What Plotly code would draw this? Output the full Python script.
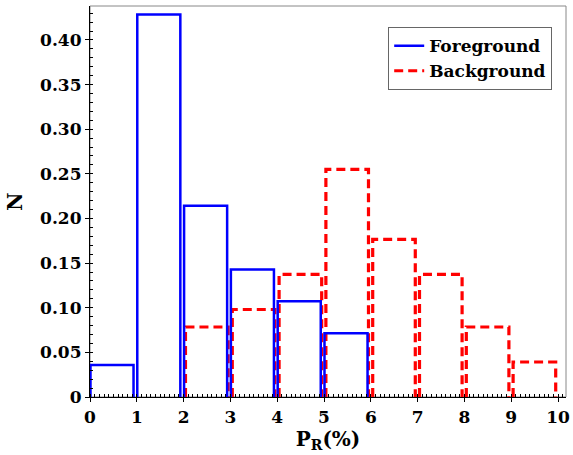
import plotly.graph_objects as go

# Histogram bins (left edges, in %) and normalised counts
bins = list(range(10))
foreground = [1/28, 12/28, 6/28, 4/28, 3/28, 2/28, 0, 0, 0, 0]
background = [0, 0, 4/51, 5/51, 7/51, 13/51, 9/51, 7/51, 4/51, 2/51]

x_ticks = list(range(11))
y_ticks = [0, 0.05, 0.10, 0.15, 0.20, 0.25, 0.30, 0.35, 0.40]
y_labels = ["0", "0.05", "0.10", "0.15", "0.20", "0.25", "0.30", "0.35", "0.40"]


def outline(edges, values, lo, hi):
    """Open rectangles (left, top, right sides) for every non-empty bin."""
    xs, ys = [], []
    for e, v in zip(edges, values):
        if v <= 0:
            continue
        xs += [e + lo, e + lo, e + hi, e + hi, None]
        ys += [0, v, v, 0, None]
    return xs, ys


FONT = "'DejaVu Serif', 'Liberation Serif', serif"

fx, fy = outline(bins, foreground, 0.01, 0.93)
bx, by = outline(bins, background, 0.04, 0.95)

fig = go.Figure()
fig.add_trace(go.Scatter(
    x=bx, y=by, mode="lines", name="Background",
    line=dict(color="#ff0000", width=3.2, dash="9px,5px"),
))
fig.add_trace(go.Scatter(
    x=fx, y=fy, mode="lines", name="Foreground",
    line=dict(color="#0000ff", width=2.5),
))

# light frame on the top and right sides
fig.add_shape(type="rect", xref="paper", yref="paper", x0=0, y0=0, x1=1, y1=1,
              line=dict(color="#888888", width=1), layer="below")

fig.update_layout(
    width=573, height=455,
    margin=dict(l=90, r=3, t=6, b=58),
    paper_bgcolor="white", plot_bgcolor="white",
    font=dict(family=FONT, size=17, color="black", weight="bold"),
    showlegend=True,
    legend=dict(
        x=0.971, y=0.946, xanchor="right", yanchor="top",
        traceorder="reversed",
        bgcolor="white", bordercolor="#666666", borderwidth=1,
        font=dict(family=FONT, size=17, color="black", weight="bold"),
        itemwidth=30,
    ),
    xaxis=dict(
        range=[0, 10.17], showgrid=False, zeroline=False,
        showline=True, linecolor="black", linewidth=1.2,
        tickmode="array", tickvals=x_ticks, ticktext=[str(t) for t in x_ticks],
        ticks="outside", ticklen=4, tickcolor="black", ticklabeloverflow="allow",
        minor=dict(dtick=0.1, ticks="inside", ticklen=3, tickcolor="black", showgrid=False),
        title=dict(text="P<sub>R</sub>(%)", font=dict(family=FONT, size=20, weight="bold"), standoff=6),
    ),
    yaxis=dict(
        range=[0, 0.438], showgrid=False, zeroline=False,
        showline=True, linecolor="black", linewidth=1.2,
        tickmode="array", tickvals=y_ticks, ticktext=y_labels,
        ticks="outside", ticklen=4, tickcolor="black",
        minor=dict(dtick=0.01, ticks="inside", ticklen=3, tickcolor="black", showgrid=False),
        title=dict(text="N", font=dict(family=FONT, size=20, weight="bold"), standoff=12),
    ),
)

fig.write_html("out.html")
